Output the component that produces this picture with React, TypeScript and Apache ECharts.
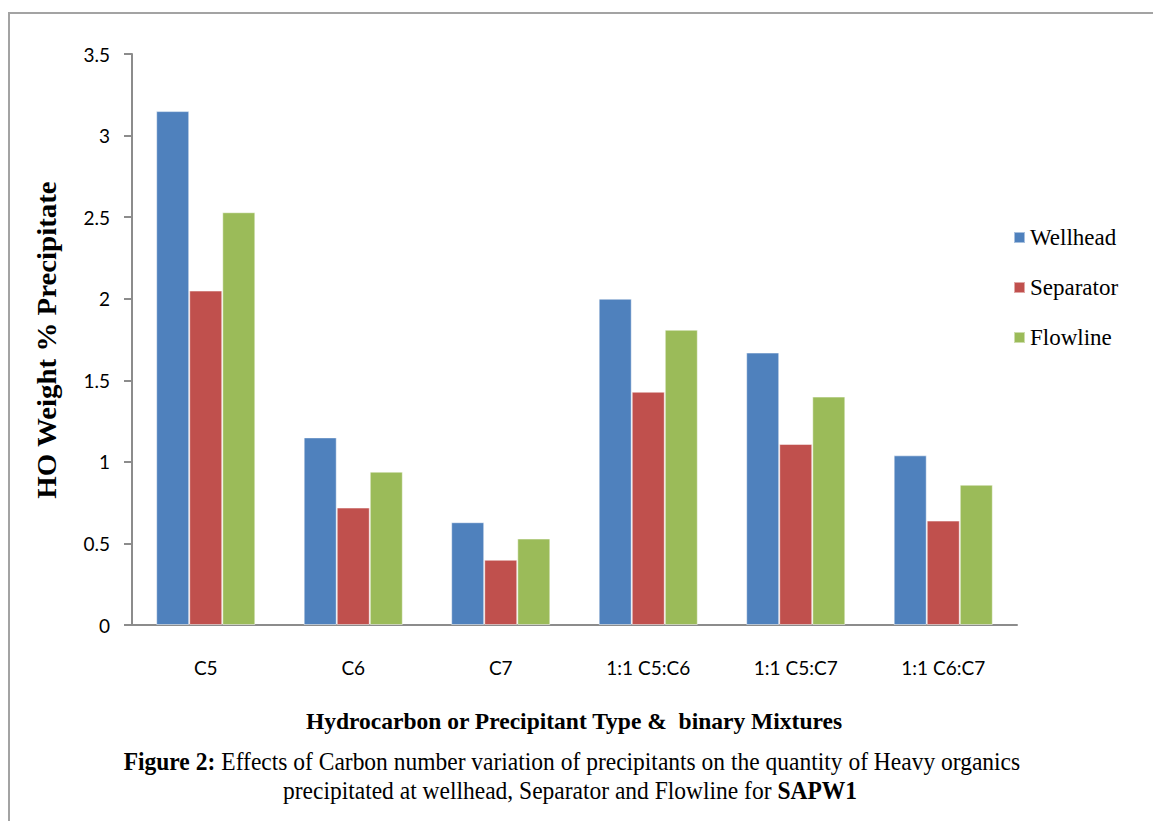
import React, { useEffect, useRef } from "react";
import * as echarts from "echarts";

const categories = ["C5", "C6", "C7", "1:1 C5:C6", "1:1 C5:C7", "1:1 C6:C7"];
const wellhead = [3.15, 1.15, 0.63, 2.0, 1.67, 1.04];
const separator = [2.05, 0.72, 0.4, 1.43, 1.11, 0.64];
const flowline = [2.53, 0.94, 0.53, 1.81, 1.4, 0.86];
const seriesNames = ["Wellhead", "Separator", "Flowline"];
const seriesColors = ["#4F81BD", "#C0504D", "#9BBB59"];

const yTitle = "HO Weight % Precipitate";
const xTitle = "Hydrocarbon or Precipitant Type &  binary Mixtures";
const captionLine1 = "{b|Figure 2:} Effects of Carbon number variation of precipitants on the quantity of Heavy organics";
const captionLine2 = "precipitated at wellhead, Separator and Flowline for {b|SAPW1}";

const SERIF = "'Liberation Serif', 'Times New Roman', serif";
const SANS = "Lato, 'Open Sans', sans-serif";

export default function App() {
  const ref = useRef<HTMLDivElement>(null);

  useEffect(() => {
    if (!ref.current) return;
    const chart = echarts.init(ref.current, null, { renderer: "svg" });
    const values = [wellhead, separator, flowline];

    chart.setOption({
      animation: false,
      backgroundColor: "#ffffff",
      grid: { left: 132, right: 136, top: 54, bottom: 196, containLabel: false },
      legend: {
        orient: "vertical",
        left: 1008,
        top: 221,
        itemWidth: 11,
        itemHeight: 11,
        itemGap: 27,
        icon: "rect",
        data: seriesNames,
        textStyle: { fontFamily: SERIF, fontSize: 23, color: "#000" },
      },
      xAxis: {
        type: "category",
        data: categories,
        axisLine: { lineStyle: { color: "#8c8c8c", width: 2 } },
        axisTick: { show: false },
        axisLabel: { fontFamily: SANS, fontSize: 19, color: "#000", margin: 33 },
      },
      yAxis: {
        type: "value",
        min: 0,
        max: 3.5,
        interval: 0.5,
        splitLine: { show: false },
        axisLine: { show: true, lineStyle: { color: "#8c8c8c", width: 2 } },
        axisTick: { show: true, length: 8, lineStyle: { color: "#8c8c8c", width: 2 } },
        axisLabel: { fontFamily: SANS, fontSize: 19, color: "#000", margin: 22 },
      },
      series: seriesNames.map((name, i) => ({
        name,
        type: "bar",
        data: values[i],
        barWidth: "22.4%",
        barGap: "0%",
        barCategoryGap: "33%",
        itemStyle: { color: seriesColors[i], borderColor: "rgba(255,255,255,0.5)", borderWidth: 1 },
      })),
      graphic: [
        {
          type: "rect",
          shape: { x: 9, y: 13, width: 1300, height: 1000 },
          style: { fill: "none", stroke: "#a3a3a3", lineWidth: 2 },
          silent: true,
        },
        {
          type: "text",
          x: 47,
          y: 340,
          rotation: Math.PI / 2,
          scaleX: 1.07,
          style: {
            text: yTitle,
            fontFamily: SERIF,
            fontSize: 27,
            fontWeight: "bold",
            fill: "#000",
            textAlign: "center",
            textVerticalAlign: "middle",
          },
        },
        {
          type: "text",
          x: 574,
          y: 721,
          scaleX: 0.98,
          style: {
            text: xTitle,
            fontFamily: SERIF,
            fontSize: 24,
            fontWeight: "bold",
            fill: "#000",
            textAlign: "center",
            textVerticalAlign: "middle",
          },
        },
        {
          type: "text",
          x: 572,
          y: 761,
          scaleX: 0.94,
          style: {
            text: captionLine1,
            fontFamily: SERIF,
            fontSize: 25,
            fill: "#000",
            textAlign: "center",
            textVerticalAlign: "middle",
            rich: { b: { fontFamily: SERIF, fontSize: 25, fontWeight: "bold", fill: "#000" } },
          },
        },
        {
          type: "text",
          x: 570,
          y: 790,
          scaleX: 0.94,
          style: {
            text: captionLine2,
            fontFamily: SERIF,
            fontSize: 25,
            fill: "#000",
            textAlign: "center",
            textVerticalAlign: "middle",
            rich: { b: { fontFamily: SERIF, fontSize: 25, fontWeight: "bold", fill: "#000" } },
          },
        },
      ],
    });

    return () => chart.dispose();
  }, []);

  return (
    <div
      ref={ref}
      style={{ position: "fixed", left: 0, top: 0, width: 1153, height: 821 }}
    />
  );
}
